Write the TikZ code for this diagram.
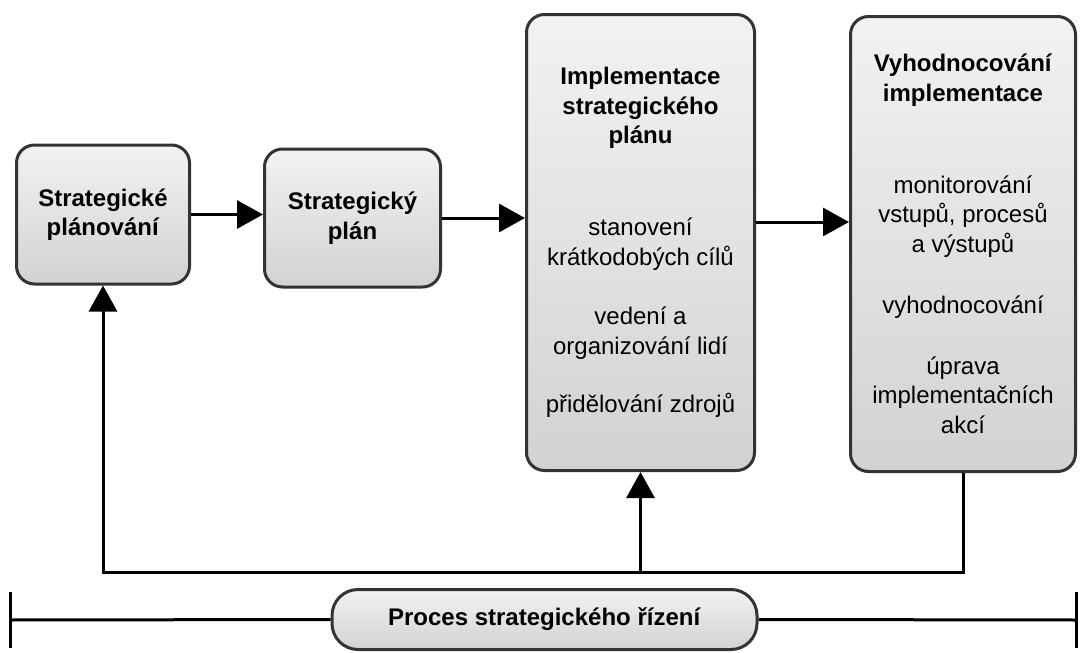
\documentclass[tikz,border=0pt]{standalone}
\usepackage{fontspec}
\setmainfont{Liberation Sans}
\usetikzlibrary{arrows.meta}
\definecolor{boxline}{HTML}{333333}
\definecolor{boxtop}{HTML}{F2F2F2}
\definecolor{boxbot}{HTML}{D2D2D2}
\tikzset{
  box/.style={draw=boxline, line width=3pt, rounded corners=18pt,
    top color=boxtop, bottom color=boxbot, align=center, inner sep=0pt,
    text=black, font=\fontsize{24}{29.5}\selectfont},
  conn/.style={line width=3pt, -{Triangle[length=26pt,width=28pt]}},
  plain/.style={line width=3pt},
}
\begin{document}
\begin{tikzpicture}[x=1pt,y=-1pt]
\useasboundingbox[fill=white] (0,0) rectangle (1080,653);
\node[box, minimum width=173pt, minimum height=139pt] (b1) at (103,214.5)
  {\textbf{Strategické}\\\textbf{plánování}};
\node[box, minimum width=176pt, minimum height=138pt] (b2) at (352.5,218)
  {\textbf{Strategický}\\\textbf{plán}};
\node[box, minimum width=228pt, minimum height=456pt] (b3) at (640.5,242.5)
  {\textbf{Implementace}\\\textbf{strategického}\\\textbf{plánu}\\[62.5pt]
   stanovení\\krátkodobých cílů\\[30pt]
   vedení a\\organizování lidí\\[29pt]
   přidělování zdrojů};
\node[box, minimum width=225pt, minimum height=455pt] (b4) at (963,244)
  {\textbf{Vyhodnocování}\\\textbf{implementace}\\[62.5pt]
   monitorování\\vstupů, procesů\\a výstupů\\[32pt]
   vyhodnocování\\[31pt]
   úprava\\implementačních\\akcí};
\node[box, rounded corners=26pt, minimum width=425pt, minimum height=60pt] (pb) at (544.5,619.5)
  {\textbf{Proces strategického řízení}};
\coordinate (r) at (0,222);
\coordinate (fb) at (0,572);
\coordinate (L) at (10,620);
\coordinate (R) at (1076,620);
\coordinate (Lt) at (10,592);
\coordinate (Lb) at (10,648);
\coordinate (Rt) at (1076,592);
\coordinate (Rb) at (1076,648);
\draw[conn] (b1.east) -- (b1.east -| b2.west);
\draw[conn] (b2.east) -- (b2.east -| b3.west);
\draw[conn] (b3.east |- r) -- (b4.west |- r);
\draw[conn] (b4.south) -- (b4.south |- fb) -- (b1.south |- fb) -- (b1.south);
\draw[conn] (b3.south |- fb) -- (b3.south);
\draw[plain] (L) -- (pb.west);
\draw[plain] (pb.east) -- (R);
\draw[plain] (Lt) -- (Lb);
\draw[plain] (Rt) -- (Rb);
\end{tikzpicture}
\end{document}
